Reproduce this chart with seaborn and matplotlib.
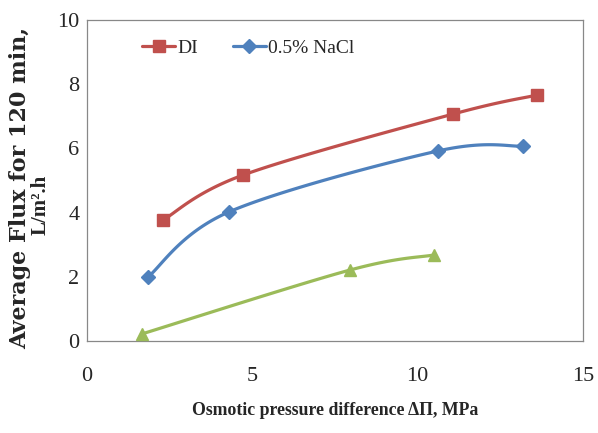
import numpy as np
import pandas as pd
import matplotlib
matplotlib.use("Agg")
import matplotlib.pyplot as plt
import seaborn as sns
from matplotlib.lines import Line2D

# Data
di_x = [2.3, 4.72, 11.07, 13.6]
di_y = [3.77, 5.17, 7.07, 7.66]
nacl_x = [1.84, 4.29, 10.61, 13.18]
nacl_y = [1.99, 4.02, 5.92, 6.07]
third_x = [1.66, 7.95, 10.49]
third_y = [0.22, 2.21, 2.68]

series_names = ["DI", "0.5% NaCl", ""]
colors = ["#C0504D", "#4F81BD", "#9BBB59"]
markers = ["s", "D", "^"]
x_ticks = [0, 5, 10, 15]
y_ticks = [0, 2, 4, 6, 8, 10]


def smooth(xs, ys, n=40):
    """Excel-like smoothed line (Catmull-Rom style Bezier) through points."""
    xs = np.asarray(xs, float)
    ys = np.asarray(ys, float)
    pts = np.column_stack([xs, ys])
    out = []
    k = len(pts)
    for i in range(k - 1):
        p0 = pts[i - 1] if i > 0 else pts[i]
        p1 = pts[i]
        p2 = pts[i + 1]
        p3 = pts[i + 2] if i + 2 < k else pts[i + 1]
        c1 = p1 + (p2 - p0) / 6.0
        c2 = p2 - (p3 - p1) / 6.0
        t = np.linspace(0, 1, n)[:, None]
        seg = ((1 - t) ** 3) * p1 + 3 * ((1 - t) ** 2) * t * c1 + 3 * (1 - t) * t ** 2 * c2 + t ** 3 * p2
        out.append(seg if i == 0 else seg[1:])
    s = np.vstack(out)
    return s[:, 0], s[:, 1]


sns.set_style("white")
plt.rcParams["font.family"] = ["Liberation Serif", "DejaVu Serif"]

fig = plt.figure(figsize=(5.98, 4.33), dpi=100)
ax = fig.add_axes([0.1455, 0.2125, 0.8295, 0.7413])

all_series = [(di_x, di_y), (nacl_x, nacl_y), (third_x, third_y)]
msizes = [9, 7.5, 9]
for (xs, ys), c, m, ms in zip(all_series, colors, markers, msizes):
    sx, sy = smooth(xs, ys)
    sns.lineplot(x=sx, y=sy, sort=False, color=c, linewidth=2.3, ax=ax, estimator=None)
    ax.plot(xs, ys, linestyle="none", marker=m, markersize=ms, color=c,
            markeredgecolor=c, zorder=5)

ax.set_xlim(0, 15)
ax.set_ylim(0, 10)
ax.set_xticks(x_ticks)
ax.set_yticks(y_ticks)
ax.tick_params(axis="both", which="both", direction="out", length=3.5, width=0.8,
               color="#888888", labelsize=16)
ax.tick_params(axis="y", pad=2)
ax.tick_params(axis="x", pad=15)
for sp in ax.spines.values():
    sp.set_color("#888888")
    sp.set_linewidth(0.9)

ax.set_xlabel("Osmotic pressure difference ΔΠ, MPa", fontsize=12.8, fontweight="bold", labelpad=12)

# two-line y-axis title drawn as separate lines (figure pixel placement)
fig.text(20 / 598, 1 - 188 / 433, "Average Flux for 120 min,", rotation=90, ha="center", va="center",
         fontsize=16, fontweight="bold", family=["DejaVu Serif"])
fig.text(41 / 598, 1 - 205 / 433, "L/m².h", rotation=90, ha="center", va="center",
         fontsize=15, fontweight="bold")

handles = [
    Line2D([0], [0], color=colors[0], marker="s", markersize=9, linewidth=2.3),
    Line2D([0], [0], color=colors[1], marker="D", markersize=7.5, linewidth=2.3),
]
ax.legend(handles, series_names[:2], loc="upper left", bbox_to_anchor=(0.076, 0.995), ncol=2,
          frameon=False, fontsize=14, handlelength=1.7, handletextpad=0.1, columnspacing=1.8)

fig.savefig("out.png", dpi=100)
